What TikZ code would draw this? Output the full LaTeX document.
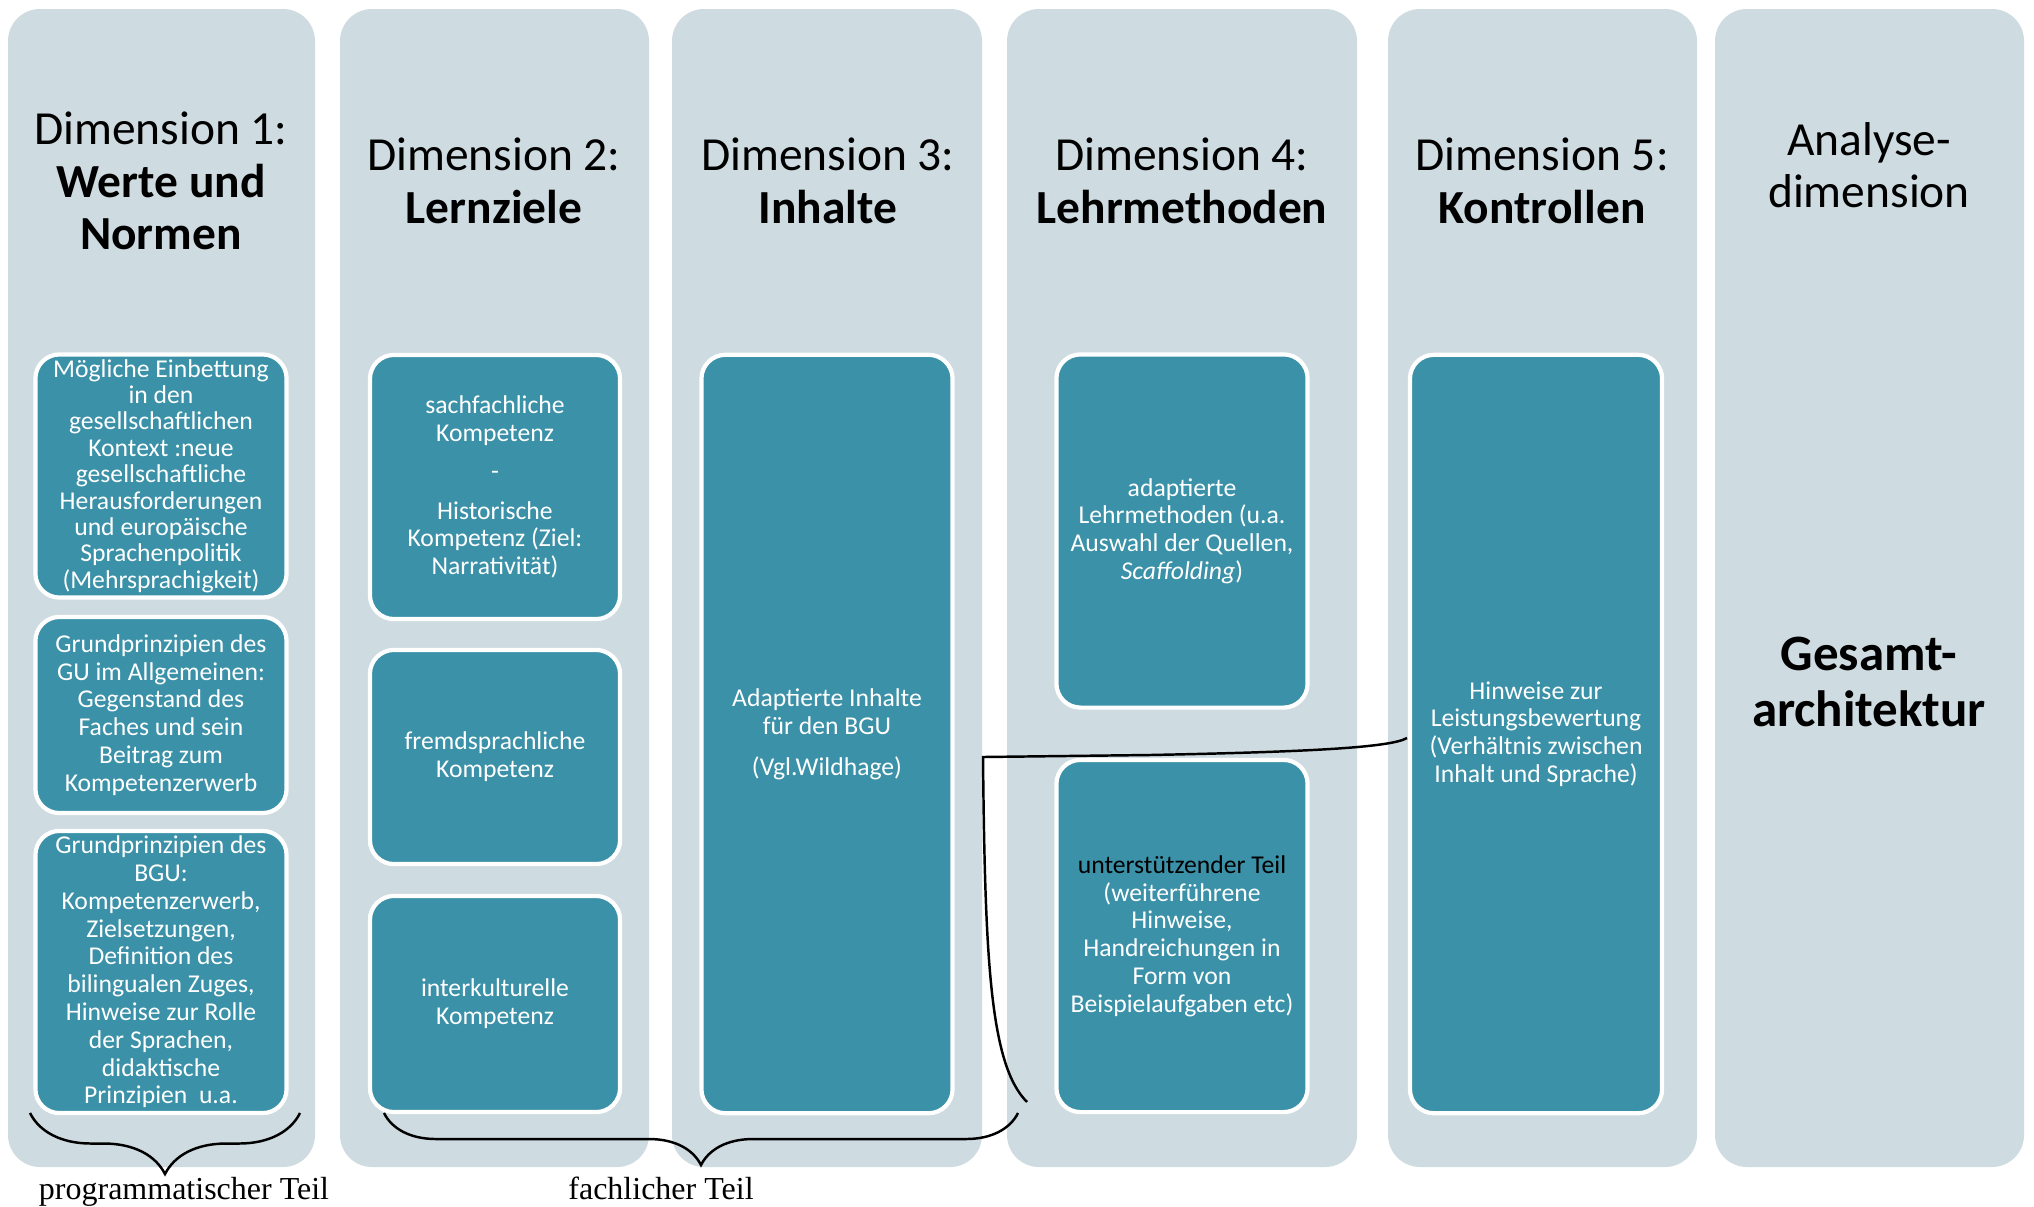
\documentclass[tikz,border=0pt]{standalone}
\usepackage{fontspec}
\setmainfont{Carlito}
\newfontfamily\timesfont{Liberation Serif}
\usepackage{xcolor}
\usepackage{tikz}
\usetikzlibrary{positioning, decorations.pathreplacing}
\definecolor{panelgray}{HTML}{CEDBE1}
\definecolor{boxteal}{HTML}{3A91A8}
\tikzset{
    architecture/.style={
        x=0.01cm, y=-0.01cm,
        panel/.style={fill=panelgray, rounded corners=0.32cm},
        title/.style={align=center, inner sep=0pt, font=\fontsize{13.5}{14.9}\selectfont},
        block/.style={rectangle, rounded corners=0.24cm, fill=boxteal, draw=white, line width=1.2pt, text=white, align=center, inner sep=0pt, minimum width=2.51cm, font=\fontsize{7.3}{7.9}\selectfont},
        teil/.style={inner sep=0pt, anchor=base, font=\timesfont\fontsize{9.1}{11}\selectfont},
        curly/.style={line width=0.7pt, decorate},
        line/.style={line width=0.7pt, black}
    }
}

\begin{document}
\begin{tikzpicture}[architecture]
        \useasboundingbox (0,0) rectangle (2034,1206);

        % Column panels
        \foreach \xa/\xb in {8/315, 340/649, 672/982, 1007/1357, 1388/1697, 1715/2024}
            \fill[panel] (\xa,9) rectangle (\xb,1167);

        % Column titles
        \node[title] (t1) at (161,181) {Dimension 1:\\\textbf{Werte und}\\\textbf{Normen}};
        \node[title] (t2) at (494,181) {Dimension 2:\\\textbf{Lernziele}};
        \node[title] (t3) at (828,181) {Dimension 3:\\\textbf{Inhalte}};
        \node[title] (t4) at (1182,181) {Dimension 4:\\\textbf{Lehrmethoden}};
        \node[title] (t5) at (1542,181) {Dimension 5:\\\textbf{Kontrollen}};
        \node[title] (t6) at (1869,165) {Analyse-\\dimension};
        \node[title, font=\bfseries\fontsize{14.5}{15.8}\selectfont] (g) at (1869,682) {Gesamt-\\architektur};

        % Dimension 1
        \node[block, minimum height=2.43cm, font=\fontsize{7.3}{7.5}\selectfont] (b11) at (161,476) {M\"ogliche Einbettung\\in den\\gesellschaftlichen\\Kontext :neue\\gesellschaftliche\\Herausforderungen\\und europ\"aische\\Sprachenpolitik\\(Mehrsprachigkeit)};
        \node[block, minimum height=1.96cm] (b12) at (161,715) {Grundprinzipien des\\GU im Allgemeinen:\\Gegenstand des\\Faches und sein\\Beitrag zum\\Kompetenzerwerb};
        \node[block, minimum height=2.82cm] (b13) at (161,972) {Grundprinzipien des\\BGU:\\Kompetenzerwerb,\\Zielsetzungen,\\Definition des\\bilingualen Zuges,\\Hinweise zur Rolle\\der Sprachen,\\didaktische\\Prinzipien\ \ u.a.};

        % Dimension 2
        \node[block, minimum width=2.50cm, minimum height=2.64cm] (b21) at (495,487) {sachfachliche\\Kompetenz\\[2.8pt]-\\[3.5pt]Historische\\Kompetenz (Ziel:\\Narrativit\"at)};
        \node[block, minimum width=2.50cm, minimum height=2.14cm] (b22) at (495,757) {fremdsprachliche\\Kompetenz};
        \node[block, minimum width=2.50cm, minimum height=2.16cm] (b23) at (495,1004) {interkulturelle\\Kompetenz};

        % Dimension 3
        \node[block, minimum height=7.58cm] (b31) at (827,734) {Adaptierte Inhalte\\f\"ur den BGU\\[3.7pt](Vgl.Wildhage)};

        % Dimension 4
        \node[block, minimum height=3.53cm] (b41) at (1182,531) {adaptierte\\Lehrmethoden (u.a.\\Auswahl der Quellen,\\\textit{Scaffolding})};
        \node[block, minimum height=3.52cm] (b42) at (1182,936) {\textcolor{black}{unterst\"utzender Teil}\\(weiterf\"uhrene\\Hinweise,\\Handreichungen in\\Form von\\Beispielaufgaben etc)};

        % Dimension 5
        \node[block, minimum width=2.52cm, minimum height=7.58cm] (b51) at (1536,734) {Hinweise zur\\Leistungsbewertung\\(Verh\"altnis zwischen\\Inhalt und Sprache)};

        % Braces
        \coordinate (p1) at (30,1113);
        \coordinate (p2) at (300,1113);
        \coordinate (f1) at (384,1113);
        \coordinate (f2) at (1018,1113);
        \draw[curly, decoration={brace, mirror, amplitude=0.61cm}] (p1) -- (p2);
        \draw[curly, decoration={brace, mirror, amplitude=0.52cm}] (f1) -- (f2);
        \node[teil] (prog) at (184,1199) {programmatischer Teil};
        \node[teil] (fach) at (661,1199) {fachlicher Teil};

        % Bracket towards Dimension 5
        \coordinate (k1) at (1407,738);
        \coordinate (k2) at (983,757);
        \coordinate (k3) at (1027,1102);
        \draw[line] (k1) .. controls (1390,748) and (1300,752) .. (1150,755) -- (k2) .. controls (985,960) and (990,1065) .. (k3);
    \end{tikzpicture}
\end{document}
